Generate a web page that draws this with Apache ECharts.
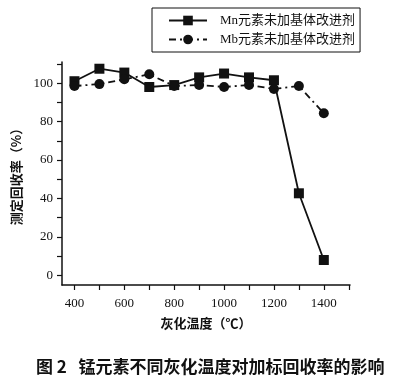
<!DOCTYPE html>
<html><head><meta charset="utf-8">
<script src="https://cdn.jsdelivr.net/npm/echarts@6/dist/echarts.min.js"></script>
<style>html,body{margin:0;padding:0;background:#fff}#c{width:415px;height:386px}</style>
</head><body><div id="c"></div>
<script>
const temps = [400, 500, 600, 700, 800, 900, 1000, 1100, 1200, 1300, 1400];
const mnValues = [101, 107.5, 105.5, 98, 99, 103, 105, 103, 101.5, 42.7, 8];
const mbValues = [98.5, 99.5, 102, 104.6, 98.5, 99, 98, 99, 97, 98.5, 84.3];
const seriesNames = ['Mn元素未加基体改进剂', 'Mb元素未加基体改进剂'];
const xTickValues = [400, 500, 600, 700, 800, 900, 1000, 1100, 1200, 1300, 1400, 1500];
const xLabelValues = [400, 600, 800, 1000, 1200, 1400];
const yTickValues = [0, 10, 20, 30, 40, 50, 60, 70, 80, 90, 100, 110];
const yLabelValues = [0, 20, 40, 60, 80, 100];
const xName = '灰化温度（℃）';
const yName = '测定回收率（%）';
const caption = '图 2   锰元素不同灰化温度对加标回收率的影响';

const serif = '"Liberation Serif", "Noto Sans CJK SC", serif';
const chart = echarts.init(document.getElementById('c'));
chart.setOption({
  animation: false,
  backgroundColor: '#fff',
  grid: { left: 62, right: 65, top: 62, bottom: 101 },
  title: {
    text: caption, left: 31, top: 353,
    textStyle: { fontSize: 17, fontWeight: 'bold', color: '#111', fontFamily: '"Noto Sans CJK SC"' }
  },
  legend: {
    orient: 'vertical', left: 152, top: 8,
    borderColor: '#111', borderWidth: 1, padding: [6, 5, 6, 16],
    itemWidth: 38, itemHeight: 12, itemGap: 6,
    textStyle: { fontSize: 13, color: '#111', fontFamily: serif, padding: [0, 0, 0, 8] },
    data: seriesNames
  },
  xAxis: {
    type: 'value', min: 350, max: 1505,
    name: xName, nameLocation: 'middle', nameGap: 32,
    nameTextStyle: { fontSize: 13, fontWeight: 'bold', color: '#111', fontFamily: '"Noto Sans CJK SC"' },
    axisLine: { onZero: false, lineStyle: { color: '#111', width: 1.5 } },
    axisTick: { customValues: xTickValues, length: 5, lineStyle: { color: '#111', width: 1.2 } },
    axisLabel: { customValues: xLabelValues, formatter: v => String(v), fontSize: 13, color: '#111', fontFamily: serif, margin: 12 },
    splitLine: { show: false }
  },
  yAxis: {
    type: 'value', min: -5, max: 111,
    name: yName, nameLocation: 'middle', nameGap: 38, nameRotate: 90,
    nameTextStyle: { fontSize: 13, fontWeight: 'bold', color: '#111', fontFamily: '"Noto Sans CJK SC"' },
    axisLine: { show: true, onZero: false, lineStyle: { color: '#111', width: 1.5 } },
    axisTick: { show: true, customValues: yTickValues, length: 5, lineStyle: { color: '#111', width: 1.2 } },
    axisLabel: { customValues: yLabelValues, formatter: v => String(v), fontSize: 13, color: '#111', fontFamily: serif, margin: 9 },
    splitLine: { show: false }
  },
  series: [
    {
      name: seriesNames[0], type: 'line',
      data: temps.map((t, i) => [t, mnValues[i]]),
      symbol: 'rect', symbolSize: 10,
      itemStyle: { color: '#111' },
      lineStyle: { color: '#111', width: 1.8, type: 'solid' }
    },
    {
      name: seriesNames[1], type: 'line',
      data: temps.map((t, i) => [t, mbValues[i]]),
      symbol: 'circle', symbolSize: 10,
      itemStyle: { color: '#111' },
      lineStyle: { color: '#111', width: 1.8, type: [7, 4, 2, 4] }
    }
  ]
});
</script></body></html>
